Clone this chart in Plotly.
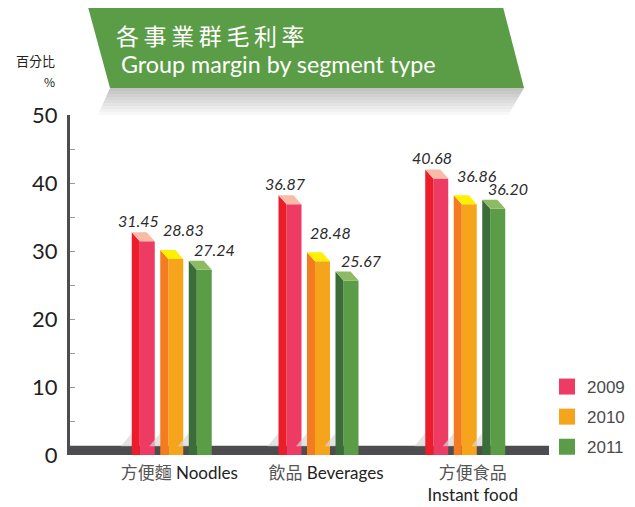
import plotly.graph_objects as go

# ---------------- data ----------------
categories_zh = ["方便麵", "飲品", "方便食品"]
categories_en = ["Noodles", "Beverages", "Instant food"]
years = ["2009", "2010", "2011"]
margin_2009 = [31.45, 36.87, 40.68]
margin_2010 = [28.83, 28.48, 36.86]
margin_2011 = [27.24, 25.67, 36.20]
y_ticks = [0, 10, 20, 30, 40, 50]

series = [margin_2009, margin_2010, margin_2011]

# ---------------- style ----------------
front_colors = ["#EE3B63", "#F7A41D", "#5B9C46"]
side_colors = ["#ED1C2B", "#F47B20", "#3B6D39"]
top_colors = ["#F9BBA6", "#FFEF00", "#8DBB63"]

OFF = 8                                # page body margin
W, H = 635, 507
L, R, T, B = 70 - OFF, 549 - OFF, 115 - OFF, 455 - OFF   # plot area (figure px)
PX_PER_X = 146.75
PX_PER_Y = (B - T) / 50.0
X_LEFT = -0.7206
X_RIGHT = X_LEFT + (R - L) / PX_PER_X

slot = 28.5 / PX_PER_X      # distance between bars in a group
bw = 15 / PX_PER_X          # front face width
dx = 8 / PX_PER_X           # depth offset x
dy = 9 / PX_PER_Y           # depth offset y
label_xshift = [-9, 7.5, 10]
label_yshift = [21, 29, 20]


def pxx(x):
    """reference-page pixel x -> paper coordinate"""
    return (x - OFF - L) / (R - L)


def pxy(y):
    """reference-page pixel y -> paper coordinate"""
    return (B - (y - OFF)) / (B - T)


fig = go.Figure()

# floor shadows, side faces, top faces
for k, vals in enumerate(series):
    sx, sy = [], []
    shx, shy = [], []
    tx, ty = [], []
    for i, v in enumerate(vals):
        xc = i + (k - 1) * slot
        xl, xr = xc - bw / 2, xc + bw / 2
        shx += [xl - dx - 11 / PX_PER_X, xl - dx, xl - dx, None]
        shy += [1.3, 1.3, 1.3 + 13 / PX_PER_Y, None]
        sx += [xl, xl, xl - dx, xl - dx, xl, None]
        sy += [0, v, v + dy, 0, 0, None]
        tx += [xl, xr, xr - dx, xl - dx, xl, None]
        ty += [v, v, v + dy, v + dy, v, None]
    fig.add_trace(go.Scatter(x=shx, y=shy, fill="toself", mode="lines",
                             line=dict(width=0), fillcolor="rgba(215,215,215,0.7)",
                             hoverinfo="skip", showlegend=False))
    fig.add_trace(go.Scatter(x=sx, y=sy, fill="toself", mode="lines",
                             line=dict(width=0), fillcolor=side_colors[k],
                             hoverinfo="skip", showlegend=False))
    fig.add_trace(go.Scatter(x=tx, y=ty, fill="toself", mode="lines",
                             line=dict(width=0), fillcolor=top_colors[k],
                             hoverinfo="skip", showlegend=False))

# front faces
for k, vals in enumerate(series):
    fig.add_trace(go.Bar(
        x=[i + (k - 1) * slot for i in range(len(vals))],
        y=vals, width=bw, marker=dict(color=front_colors[k], line=dict(width=0)),
        name=years[k], legendgroup=years[k], showlegend=False,
        hoverinfo="skip",
    ))

# legend entries
for k, yr in enumerate(years):
    fig.add_trace(go.Scatter(
        x=[None], y=[None], mode="markers", name=yr, legendgroup=yr,
        marker=dict(symbol="square", size=17, color=front_colors[k]),
        showlegend=True,
    ))

# value labels
annotations = []
for k, vals in enumerate(series):
    for i, v in enumerate(vals):
        annotations.append(dict(
            x=i + (k - 1) * slot, y=v, xref="x", yref="y",
            text=f"{v:.2f}", showarrow=False,
            xshift=label_xshift[k], yshift=label_yshift[k],
            font=dict(family="Lato, Noto Sans CJK TC, sans-serif", size=16,
                      color="#2B2B2B", style="italic"),
        ))

# title texts
annotations.append(dict(
    x=pxx(114), y=pxy(35), xref="paper", yref="paper", xanchor="left", yanchor="middle",
    text="\u2009".join("各事業群毛利率"), showarrow=False,
    font=dict(family="Noto Sans CJK TC, sans-serif", size=23, color="white"),
))
annotations.append(dict(
    x=pxx(119), y=pxy(64), xref="paper", yref="paper", xanchor="left", yanchor="middle",
    text="Group margin by segment type", showarrow=False,
    font=dict(family="Lato, sans-serif", size=23.3, color="white"),
))
annotations.append(dict(
    x=pxx(57), y=pxy(61), xref="paper", yref="paper", xanchor="right", yanchor="middle",
    text="百分比", showarrow=False,
    font=dict(family="Noto Sans CJK TC, sans-serif", size=13, color="#222"),
))
annotations.append(dict(
    x=pxx(57), y=pxy(82), xref="paper", yref="paper", xanchor="right", yanchor="middle",
    text="%", showarrow=False,
    font=dict(family="Noto Sans CJK TC, sans-serif", size=12, color="#222"),
))

# shapes: banner, banner shadow, floor band
shapes = []
for j in range(10):
    y_a = 88 + j * 3
    y_b = y_a + 3
    xa_l = 110 - (y_a - 88) * 13 / 29
    xb_l = 110 - (y_b - 88) * 13 / 29
    xa_r = 524 - (y_a - 88) * 17 / 29
    xb_r = 524 - (y_b - 88) * 17 / 29
    g = int(195 + (255 - 195) * j / 9)
    shapes.append(dict(
        type="path", xref="paper", yref="paper", layer="below",
        path=(f"M{pxx(xa_l)},{pxy(y_a)} L{pxx(xa_r)},{pxy(y_a)} "
              f"L{pxx(xb_r)},{pxy(y_b)} L{pxx(xb_l)},{pxy(y_b)} Z"),
        fillcolor=f"rgb({g},{g},{g})", line=dict(width=0),
    ))
shapes.append(dict(
    type="path", xref="paper", yref="paper", layer="above",
    path=(f"M{pxx(88)},{pxy(7)} L{pxx(503)},{pxy(7)} "
          f"L{pxx(524)},{pxy(88)} L{pxx(110)},{pxy(88)} Z"),
    fillcolor="#5B9C46", line=dict(width=0),
))
shapes.append(dict(
    type="rect", xref="paper", yref="y", layer="below",
    x0=pxx(67), x1=1, y0=-0.15, y1=1.35,
    fillcolor="#4D4D4F", line=dict(width=0),
))

ticktext = []
for zh, en in zip(categories_zh, categories_en):
    if len(zh) > 3:
        ticktext.append(f"<span style='color:#555'>{zh}</span><br>{en}")
    else:
        ticktext.append(f"<span style='color:#555'>{zh}</span> {en}")

fig.update_layout(
    width=W, height=H,
    margin=dict(l=L, r=W - R, t=T, b=H - B, pad=0, autoexpand=False),
    paper_bgcolor="white", plot_bgcolor="white",
    barmode="overlay",
    showlegend=True,
    legend=dict(
        x=pxx(547), y=pxy(369), xanchor="left", yanchor="top",
        font=dict(family="Liberation Sans, Arial, sans-serif", size=17, color="#4A4A4A"),
        tracegroupgap=5, itemsizing="trace", bgcolor="rgba(0,0,0,0)",
    ),
    xaxis=dict(
        range=[X_LEFT, X_RIGHT], showgrid=False, zeroline=False, showline=False,
        tickvals=[i + 3.5 / PX_PER_X for i in range(len(categories_en))],
        ticktext=ticktext, ticks="", ticklabelstandoff=6, automargin=False,
        tickfont=dict(family="Lato, Noto Sans CJK TC, sans-serif", size=17, color="#222"),
        fixedrange=True,
    ),
    yaxis=dict(
        range=[0, 50], tickvals=y_ticks, showgrid=False, zeroline=False,
        showline=True, linecolor="#4D4D4F", linewidth=3,
        ticks="inside", ticklen=5, tickcolor="#9A9A9A", tickwidth=1,
        minor=dict(dtick=5, ticks="inside", ticklen=5, tickcolor="#9A9A9A", tickwidth=1),
        tickfont=dict(family="Lato, sans-serif", size=22, color="#231F20"),
        ticklabelstandoff=5, automargin=False,
        fixedrange=True,
    ),
    annotations=annotations,
    shapes=shapes,
)

fig.write_html("out.html")
